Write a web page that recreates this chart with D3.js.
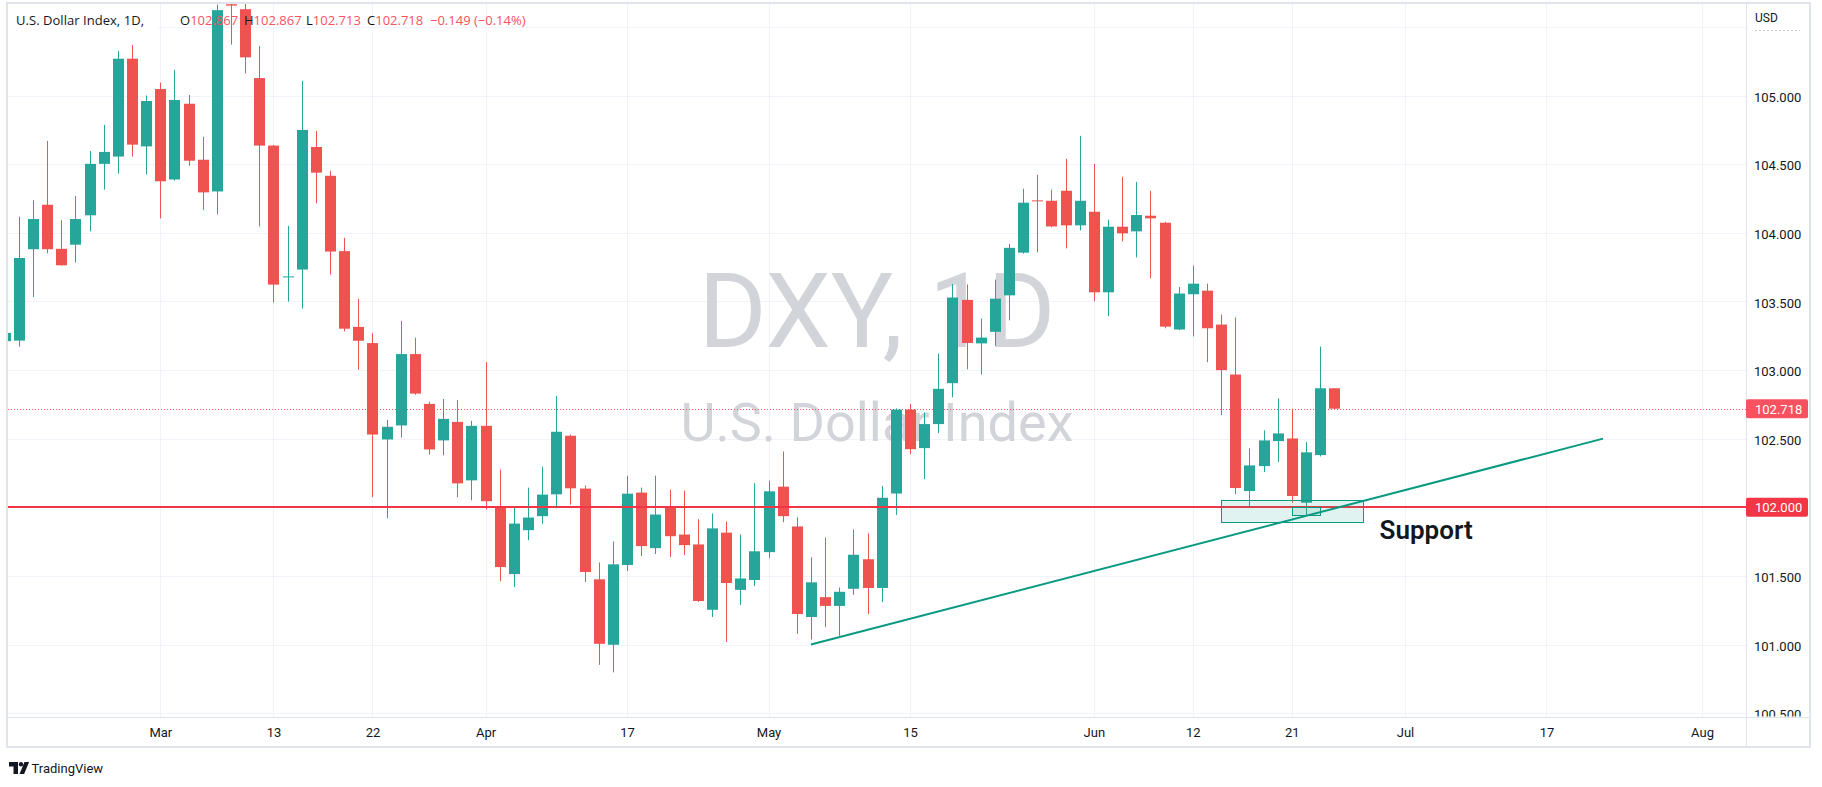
<!DOCTYPE html>
<html><head><meta charset="utf-8">
<script src="https://cdn.jsdelivr.net/npm/d3@7"></script>
<style>html,body{margin:0;padding:0;background:#fff;}svg{display:block;font-family:Roboto,"Trebuchet MS",sans-serif;}</style>
</head><body><svg id="chart" width="1822" height="787"></svg>
<script>
// ---------- DATA ----------
const dates = [
"2023-02-14","2023-02-15","2023-02-16","2023-02-17","2023-02-20","2023-02-21","2023-02-22","2023-02-23","2023-02-24","2023-02-27","2023-02-28",
"2023-03-01","2023-03-02","2023-03-03","2023-03-06","2023-03-07","2023-03-08","2023-03-09","2023-03-10",
"2023-03-13","2023-03-14","2023-03-15","2023-03-16","2023-03-17",
"2023-03-20","2023-03-21","2023-03-22","2023-03-23","2023-03-24",
"2023-03-27","2023-03-28","2023-03-29","2023-03-30","2023-03-31",
"2023-04-03","2023-04-04","2023-04-05","2023-04-06","2023-04-07",
"2023-04-10","2023-04-11","2023-04-12","2023-04-13","2023-04-14",
"2023-04-17","2023-04-18","2023-04-19","2023-04-20","2023-04-21",
"2023-04-24","2023-04-25","2023-04-26","2023-04-27","2023-04-28",
"2023-05-01","2023-05-02","2023-05-03","2023-05-04","2023-05-05",
"2023-05-08","2023-05-09","2023-05-10","2023-05-11","2023-05-12",
"2023-05-15","2023-05-16","2023-05-17","2023-05-18","2023-05-19",
"2023-05-22","2023-05-23","2023-05-24","2023-05-25","2023-05-26",
"2023-05-29","2023-05-30","2023-05-31","2023-06-01","2023-06-02",
"2023-06-05","2023-06-06","2023-06-07","2023-06-08","2023-06-09",
"2023-06-12","2023-06-13","2023-06-14","2023-06-15","2023-06-16",
"2023-06-19","2023-06-20","2023-06-21","2023-06-22","2023-06-23",
"2023-06-26"];

const openV = [
103.21,103.214,103.880,104.204,103.883,103.913,104.127,104.502,104.555,105.268,104.629,
105.047,104.388,104.940,104.532,104.301,105.665,105.629,105.127,
104.635,103.676,103.732,104.625,104.415,
103.866,103.314,103.196,102.494,102.596,
103.116,102.753,102.487,102.622,102.196,
102.593,102.007,101.513,101.833,101.935,
102.094,102.521,102.136,101.475,100.998,
101.579,102.107,101.702,102.007,101.801,
101.729,101.253,101.815,101.398,101.470,
101.673,102.150,101.860,101.200,101.345,
101.281,101.406,101.621,101.412,102.100,
102.712,102.431,102.606,102.904,103.511,
103.194,103.278,103.544,103.855,104.236,
104.233,104.306,104.054,104.153,103.566,
104.044,104.010,104.124,104.073,103.295,
103.552,103.578,103.331,102.967,102.118,
102.300,102.482,102.501,102.033,102.380,
102.867];

const highV = [
103.35,104.117,104.237,104.669,104.090,104.268,104.595,104.786,105.324,105.368,105.000,
105.094,105.187,105.003,104.699,105.662,105.68,105.67,105.361,
104.640,104.050,105.107,104.742,104.452,
103.963,103.518,103.269,102.637,103.358,
103.235,102.770,102.789,102.782,102.630,
103.058,102.274,102.002,102.143,102.295,
102.811,102.530,102.157,101.598,101.751,
102.230,102.143,102.230,102.128,102.121,
101.913,101.955,101.896,101.802,102.175,
102.194,102.406,101.927,101.634,101.779,
101.415,101.838,101.810,102.155,102.720,
102.754,102.690,103.119,103.626,103.623,
103.375,103.659,103.919,104.321,104.422,
104.313,104.539,104.706,104.502,104.095,
104.408,104.371,104.306,104.080,103.605,
103.760,103.629,103.404,103.382,102.429,
102.560,102.793,102.717,102.475,103.171,
102.867];

const lowV = [
103.15,103.171,103.532,103.850,103.760,103.783,104.010,104.314,104.431,104.555,104.425,
104.104,104.380,104.488,104.167,104.134,105.371,105.161,104.047,
103.492,103.498,103.448,104.214,103.696,
103.281,103.002,102.073,101.920,102.508,
102.820,102.383,102.378,102.073,102.051,
101.985,101.462,101.419,101.760,101.881,
101.993,102.019,101.455,100.852,100.797,
101.535,101.644,101.659,101.637,101.651,
101.310,101.200,101.019,101.289,101.426,
101.629,101.891,101.078,101.036,101.128,
101.064,101.362,101.222,101.309,101.944,
102.386,102.205,102.540,102.801,103.005,
102.968,103.174,103.362,103.848,103.857,
104.040,103.886,104.017,103.501,103.392,
103.937,103.821,103.668,103.304,103.290,
103.244,103.057,102.671,102.096,102.009,
102.256,102.329,102.033,101.936,102.370,
102.713];

const closeV = [
103.27,103.816,104.100,103.880,103.763,104.100,104.502,104.589,105.268,104.642,104.960,
104.375,104.967,104.525,104.294,105.622,105.655,105.278,104.635,
103.622,103.682,104.749,104.438,103.863,
103.301,103.213,102.530,102.586,103.116,
102.828,102.421,102.644,102.174,102.593,
102.044,101.564,101.881,101.925,102.092,
102.550,102.138,101.528,101.005,101.584,
102.099,101.717,101.947,101.789,101.724,
101.317,101.846,101.448,101.481,101.679,
102.116,101.935,101.222,101.453,101.281,
101.384,101.654,101.412,102.069,102.712,
102.423,102.606,102.863,103.528,103.197,
103.236,103.520,103.890,104.219,104.231,
104.046,104.054,104.233,103.566,104.044,
103.996,104.129,104.105,103.316,103.557,
103.629,103.304,102.999,102.140,102.305,
102.487,102.538,102.082,102.400,102.867,
102.718];

// x-axis ticks (bar index in trading days, counting from the first bar)
const xTickIndex  = [11, 19, 26, 34, 44, 54, 64, 77, 84, 91, 99, 109, 120];
const xTickLabels = ["Mar","13","22","Apr","17","May","15","Jun","12","21","Jul","17","Aug"];
const priceTicks  = [100.5,101,101.5,102,102.5,103,103.5,104,104.5,105];
const gridPrices  = [100.5,101,101.5,102,102.5,103,103.5,104,104.5,105,105.5];

// annotations
const supportLevel = 102.0;
const trendPoints  = [{i:57, v:101.0},{i:113, v:102.5}];
const zoneBox      = {i0:86, i1:96, v0:101.89, v1:102.05};
const innerBox     = {i0:91, i1:93, v0:101.94, v1:102.0};
const supportLabel = {i:97.2, v:101.766, text:"Support"};
const title = "U.S. Dollar Index, 1D,";
const watermark1 = "DXY, 1D";
const watermark2 = "U.S. Dollar Index";

// ---------- LAYOUT ----------
const svg = d3.select("#chart");
const pane = {x0:8, x1:1746, y0:4, y1:717};
const axisRight = 1810, axisBottom = 747;
const UP = "#26a69a", DOWN = "#ef5350";
const GRID = "#f0f3fa", BORDER = "#e0e3eb", TXT = "#131722";

const xs = d3.scaleLinear().domain([11, 94]).range([160.3, 1334.3]);
const ys = d3.scaleLinear().domain([101, 105]).range([644.5, 95.5]);

const bars = dates.map((d,i)=>({i, date:d, o:openV[i], h:highV[i], l:lowV[i], c:closeV[i]}));

svg.append("rect").attr("width",1822).attr("height",787).attr("fill","#fff");

const defs = svg.append("defs");
defs.append("clipPath").attr("id","paneClip").append("rect")
  .attr("x",pane.x0).attr("y",pane.y0).attr("width",pane.x1-pane.x0).attr("height",pane.y1-pane.y0);
defs.append("clipPath").attr("id","axisClip").append("rect")
  .attr("x",pane.x1).attr("y",pane.y0).attr("width",axisRight-pane.x1).attr("height",pane.y1-pane.y0-0.5);

const g = svg.append("g").attr("clip-path","url(#paneClip)");

// grid
g.selectAll("line.hg").data(gridPrices).join("line")
  .attr("x1",pane.x0).attr("x2",pane.x1)
  .attr("y1",d=>Math.round(ys(d))+0.5).attr("y2",d=>Math.round(ys(d))+0.5)
  .attr("stroke",GRID).attr("stroke-width",1);
g.selectAll("line.vg").data(xTickIndex).join("line")
  .attr("y1",pane.y0).attr("y2",pane.y1)
  .attr("x1",d=>Math.round(xs(d))+0.5).attr("x2",d=>Math.round(xs(d))+0.5)
  .attr("stroke",GRID).attr("stroke-width",1);

// watermark
const cx = (pane.x0+pane.x1)/2;
g.append("text").attr("x",cx).attr("y",347).attr("text-anchor","middle")
  .attr("font-size",104).attr("fill","#d3d4d9").text(watermark1);
g.append("text").attr("x",cx).attr("y",440.5).attr("text-anchor","middle")
  .attr("font-size",54).attr("fill","#d3d4d9").text(watermark2);

// dotted last price line
const last = bars[bars.length-1];
const prev = bars[bars.length-2];
g.append("line").attr("x1",pane.x0).attr("x2",pane.x1)
  .attr("y1",Math.round(ys(last.c))+0.5).attr("y2",Math.round(ys(last.c))+0.5)
  .attr("stroke","#f7525f").attr("stroke-width",1).attr("stroke-dasharray","1,2");

// candles
const bw = 11;
const cg = g.append("g");
cg.selectAll("line.wick").data(bars).join("line")
  .attr("x1",d=>Math.round(xs(d.i))+0.5).attr("x2",d=>Math.round(xs(d.i))+0.5)
  .attr("y1",d=>ys(d.h)).attr("y2",d=>ys(d.l))
  .attr("stroke",d=>d.c>=d.o?UP:DOWN).attr("stroke-width",1);
cg.selectAll("rect.body").data(bars).join("rect")
  .attr("x",d=>Math.round(xs(d.i))-(bw-1)/2)
  .attr("width",bw)
  .attr("y",d=>ys(Math.max(d.o,d.c)))
  .attr("height",d=>Math.max(1, ys(Math.min(d.o,d.c))-ys(Math.max(d.o,d.c))))
  .attr("fill",d=>d.c>=d.o?UP:DOWN);

// support horizontal line
g.append("line").attr("x1",pane.x0).attr("x2",pane.x1)
  .attr("y1",Math.round(ys(supportLevel))).attr("y2",Math.round(ys(supportLevel)))
  .attr("stroke","#f23645").attr("stroke-width",2);

// zone boxes
[zoneBox, innerBox].forEach(b=>{
  g.append("rect")
    .attr("x",Math.round(xs(b.i0))+0.5).attr("y",Math.round(ys(b.v1))+0.5)
    .attr("width",Math.round(xs(b.i1))-Math.round(xs(b.i0)))
    .attr("height",Math.round(ys(b.v0))-Math.round(ys(b.v1)))
    .attr("fill","rgba(8,153,129,0.12)").attr("stroke","#089981").attr("stroke-width",1);
});

// trend line
g.append("path").datum(trendPoints)
  .attr("d",d3.line().x(d=>xs(d.i)).y(d=>ys(d.v)))
  .attr("stroke","#089981").attr("stroke-width",2).attr("fill","none");

// support label
g.append("text").attr("x",xs(supportLabel.i)).attr("y",ys(supportLabel.v))
  .attr("font-size",26).attr("font-weight",600).attr("fill",TXT).text(supportLabel.text);

// header
const hdr = svg.append("g").attr("font-size",13).attr("font-family","'Open Sans',Roboto,sans-serif");
hdr.append("rect").attr("x",pane.x0).attr("y",8).attr("width",150).attr("height",26).attr("fill","#fff");
hdr.append("text").attr("x",16).attr("y",25).attr("fill",TXT)
  .attr("textLength",128).attr("lengthAdjust","spacing").text(title);
const fmt = d3.format(".3f");
const chg = last.c - prev.c;
const pct = chg/prev.c*100;
const items = [
  {x:180, k:"O", v:fmt(last.o)},
  {x:244, k:"H", v:fmt(last.h)},
  {x:306, k:"L", v:fmt(last.l)},
  {x:367, k:"C", v:fmt(last.c)},
  {x:430, k:"",  v:(chg<0?"\u2212":"+")+fmt(Math.abs(chg))+" ("+(pct<0?"\u2212":"+")+Math.abs(pct).toFixed(2)+"%)"}
];
items.forEach(it=>{
  const t = hdr.append("text").attr("x",it.x).attr("y",25);
  if(it.k) t.append("tspan").attr("fill",TXT).text(it.k);
  t.append("tspan").attr("fill","#f7525f").text(it.v);
});

// frame & separators
svg.append("rect").attr("x",7).attr("y",3).attr("width",axisRight-7).attr("height",axisBottom-3)
  .attr("fill","none").attr("stroke",BORDER).attr("stroke-width",2);
svg.append("line").attr("x1",pane.x1+0.5).attr("x2",pane.x1+0.5).attr("y1",3).attr("y2",axisBottom)
  .attr("stroke",BORDER);
svg.append("line").attr("x1",7).attr("x2",axisRight).attr("y1",pane.y1+0.5).attr("y2",pane.y1+0.5)
  .attr("stroke",BORDER);

// price axis
const pAxis = svg.append("g").attr("clip-path","url(#axisClip)")
  .append("g").attr("transform",`translate(${pane.x1},0)`)
  .call(d3.axisRight(ys).tickValues(priceTicks).tickFormat(fmt).tickSize(0).tickPadding(8));
pAxis.select(".domain").remove();
pAxis.selectAll("text").attr("font-size",13).attr("fill",TXT).attr("font-family","Roboto,sans-serif").attr("dy","0.44em");

svg.append("text").attr("x",1755).attr("y",22).attr("font-size",12).attr("fill",TXT).text("USD");
svg.append("line").attr("x1",1755).attr("x2",1800).attr("y1",30.5).attr("y2",30.5)
  .attr("stroke","#c9cbd2").attr("stroke-dasharray","2,2");

// price labels
[{v:last.c, col:"#f7525f"},{v:supportLevel, col:"#f23645"}].forEach(p=>{
  const yy = ys(p.v);
  svg.append("rect").attr("x",pane.x1).attr("y",yy-9.5).attr("width",62).attr("height",19)
    .attr("rx",2).attr("fill",p.col);
  svg.append("text").attr("x",1755).attr("y",yy).attr("dy","0.38em").attr("font-size",13)
    .attr("fill","#fff").text(fmt(p.v));
});

// time axis
const tAxis = svg.append("g").attr("transform",`translate(0,${pane.y1})`)
  .call(d3.axisBottom(xs).tickValues(xTickIndex).tickFormat((d,i)=>xTickLabels[i]).tickSize(0).tickPadding(11));
tAxis.select(".domain").remove();
tAxis.selectAll("text").attr("font-size",13).attr("fill",TXT).attr("font-family","Roboto,sans-serif");

// TradingView logo
const lg = svg.append("g").attr("fill",TXT);
lg.append("path").attr("d","M9,762 h9 v12 h-4.5 v-7.5 h-4.5 z");
lg.append("circle").attr("cx",21).attr("cy",764.3).attr("r",2.2);
lg.append("path").attr("d","M24.5,762 h4.6 l-5,12 h-4.6 z");
svg.append("text").attr("x",31.5).attr("y",773).attr("font-size",13).attr("fill",TXT).text("TradingView");
</script></body></html>
